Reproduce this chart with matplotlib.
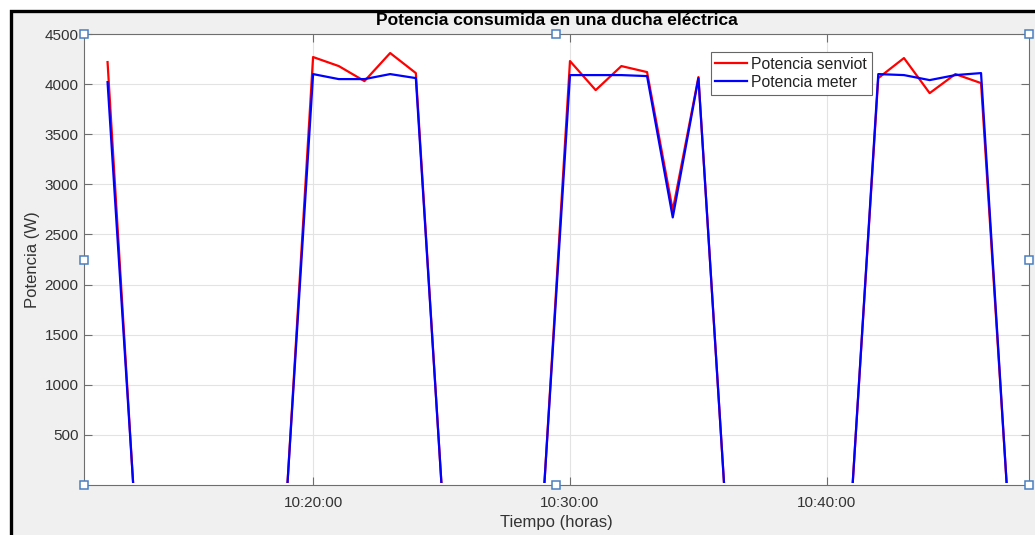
import numpy as np
import pandas as pd
import matplotlib
matplotlib.use("Agg")
import matplotlib.pyplot as plt
import matplotlib.dates as mdates
from matplotlib.patches import Rectangle
from matplotlib.lines import Line2D

plt.rcParams['font.family'] = ['Liberation Sans', 'DejaVu Sans']

# One sample per minute
sample_times = pd.date_range("2021-01-01 10:12:00", "2021-01-01 10:47:00", freq="1min")

potencia_senviot = [
    4220,
    0, 0, 0, 0, 0, 0, 0,
    4270, 4180, 4030, 4310, 4110,
    0, 0, 0, 0, 0,
    4230, 3940, 4180, 4120, 2740, 4070,
    0, 0, 0, 0, 0, 0,
    4060, 4260, 3910, 4100, 4010,
    0,
]
potencia_meter = [
    4020,
    0, 0, 0, 0, 0, 0, 0,
    4100, 4050, 4050, 4100, 4060,
    0, 0, 0, 0, 0,
    4090, 4090, 4090, 4080, 2670, 4060,
    0, 0, 0, 0, 0, 0,
    4100, 4090, 4040, 4090, 4110,
    0,
]

x_start = pd.Timestamp("2021-01-01 10:11:05")
x_end = pd.Timestamp("2021-01-01 10:47:52")
x_ticks = pd.to_datetime(["2021-01-01 10:20:00", "2021-01-01 10:30:00", "2021-01-01 10:40:00"])
y_ticks = [500, 1000, 1500, 2000, 2500, 3000, 3500, 4000, 4500]

W, H = 1035, 535
fig = plt.figure(figsize=(W / 100, H / 100), dpi=100, facecolor="white")

# Window frame: grey panel with dark border on top and left
fig.add_artist(Rectangle((10.5 / W, -0.05), 1.2, (H - 11) / H + 0.05,
                         transform=fig.transFigure, facecolor="#f0f0f0",
                         edgecolor="black", linewidth=2.4, zorder=0))

ax = fig.add_axes([84 / W, (H - 485) / H, 945 / W, 451 / H])
ax.set_facecolor("white")

clip = Rectangle((0, 0.005), 1, 0.995, transform=ax.transAxes, facecolor="none", edgecolor="none")
ax.add_patch(clip)

l1, = ax.plot(sample_times, potencia_senviot, color=(1, 0, 0), lw=1.6, label="Potencia senviot")
l2, = ax.plot(sample_times, potencia_meter, color=(0, 0, 1), lw=1.6, label="Potencia meter")
for ln in (l1, l2):
    ln.set_clip_path(clip)

ax.set_xlim(x_start, x_end)
ax.set_ylim(0, 4500)
ax.set_xticks(x_ticks)
ax.xaxis.set_major_formatter(mdates.DateFormatter("%H:%M:%S"))
ax.set_yticks(y_ticks)

ax.grid(True, color="#e3e3e3", lw=0.8)
ax.set_axisbelow(True)
for s in ax.spines.values():
    s.set_color("#6e6e6e")
    s.set_linewidth(0.8)
    s.set_zorder(3)

ax.tick_params(axis="both", direction="in", length=6, width=0.8, color="#6e6e6e",
               labelsize=11, labelcolor="#333333", top=True, right=True)
ax.tick_params(axis="x", pad=8)
ax.tick_params(axis="y", pad=4)

ax.set_xlabel("Tiempo (horas)", fontsize=12, color="#333333")
ax.set_ylabel("Potencia (W)", fontsize=12, color="#333333")
ax.xaxis.set_label_coords(0.5, -0.066)
ax.yaxis.set_label_coords(-0.047, 0.5)

fig.text((84 + 1029) / 2 / W, (H - 20.5) / H, "Potencia consumida en una ducha eléctrica",
         ha="center", va="center", fontsize=12.5, fontweight="bold", color="black")

leg = ax.legend(loc="upper left", bbox_to_anchor=(0.663, 0.96), borderaxespad=0,
                fontsize=11.3, fancybox=False, framealpha=1, edgecolor="#666666",
                handlelength=2.05, handletextpad=0.25, labelspacing=0.2, borderpad=0.3)
leg.get_frame().set_linewidth(0.8)
for t in leg.get_texts():
    t.set_color("#222222")

# Selection handles around the axes
hx = [0, 0.5, 1, 0, 1, 0, 0.5, 1]
hy = [1, 1, 1, 0.5, 0.5, 0, 0, 0]
ax.add_line(Line2D(hx, hy, transform=ax.transAxes, ls="none", marker="s", ms=5.5,
                   mfc="white", mec="#4a7fc1", mew=1.1, clip_on=False, zorder=5))

fig.savefig("out.png", dpi=100, facecolor=fig.get_facecolor())
